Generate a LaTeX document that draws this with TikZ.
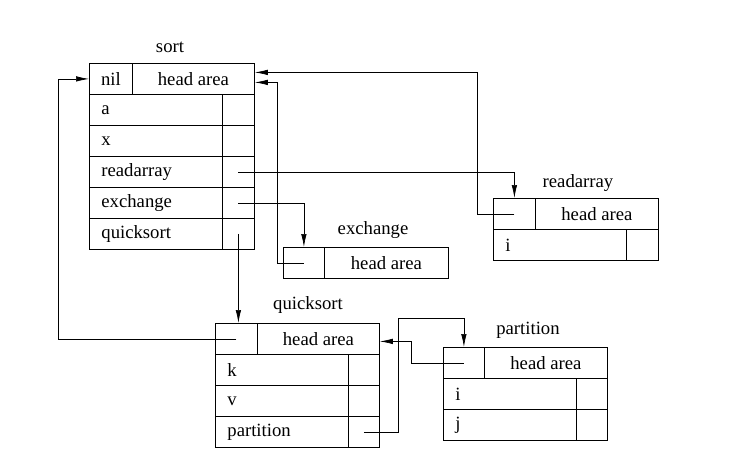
\documentclass[tikz,border=0pt]{standalone}
\usepackage{fontspec}
\setmainfont{Liberation Serif}
\usetikzlibrary{arrows.meta}

\tikzset{
    cell/.style={draw, rectangle, anchor=north west, minimum height=31pt, inner sep=0pt},
    field/.style={cell, inner xsep=12pt, align=left, text width=#1},
    ptr/.style={->, line width=.7pt}
}

\begin{document}
\begin{tikzpicture}[x=1pt, y=-1pt, >={Latex[length=13pt,width=5.5pt]}, line width=.8pt,
    every node/.append style={font=\fontsize{18.7}{20}\selectfont}]
\useasboundingbox (0,0) rectangle (748,467);

% sort
\node (t-sort) at (170,47) {sort};
\node[cell, minimum width=43pt] (s-nil) at (89,63) {nil};
\node[cell, minimum width=122pt] (s-head) at (132,63) {head area};
\node[field=109pt] (s-a) at (89,94) {a};
\node[cell, minimum width=32pt] (s-ap) at (222,94) {};
\node[field=109pt] (s-x) at (89,125) {x};
\node[cell, minimum width=32pt] (s-xp) at (222,125) {};
\node[field=109pt] (s-r) at (89,156) {readarray};
\node[cell, minimum width=32pt] (s-rp) at (222,156) {};
\node[field=109pt] (s-e) at (89,187) {exchange};
\node[cell, minimum width=32pt] (s-ep) at (222,187) {};
\node[field=109pt] (s-q) at (89,218) {quicksort};
\node[cell, minimum width=32pt] (s-qp) at (222,218) {};

% exchange
\node (t-exch) at (373,230) {exchange};
\node[cell, minimum width=41pt] (e-ptr) at (283,247) {};
\node[cell, minimum width=124pt] (e-head) at (324,247) {head area};

% readarray
\node (t-read) at (578,183) {readarray};
\node[cell, minimum width=42pt] (r-ptr) at (493,198) {};
\node[cell, minimum width=123pt] (r-head) at (535,198) {head area};
\node[field=109pt] (r-i) at (493,229) {i};
\node[cell, minimum width=32pt] (r-ip) at (626,229) {};

% quicksort
\node (t-quick) at (308,305) {quicksort};
\node[cell, minimum width=42pt] (q-ptr) at (215,323) {};
\node[cell, minimum width=122pt] (q-head) at (257,323) {head area};
\node[field=109pt] (q-k) at (215,354) {k};
\node[cell, minimum width=31pt] (q-kp) at (348,354) {};
\node[field=109pt] (q-v) at (215,385) {v};
\node[cell, minimum width=31pt] (q-vp) at (348,385) {};
\node[field=109pt] (q-p) at (215,416) {partition};
\node[cell, minimum width=31pt] (q-pp) at (348,416) {};

% partition
\node (t-part) at (528,330) {partition};
\node[cell, minimum width=41pt] (p-ptr) at (443,347) {};
\node[cell, minimum width=123pt] (p-head) at (484,347) {head area};
\node[field=109pt] (p-i) at (443,378) {i};
\node[cell, minimum width=31pt] (p-ip) at (576,378) {};
\node[field=109pt] (p-j) at (443,409) {j};
\node[cell, minimum width=31pt] (p-jp) at (576,409) {};

% links
\coordinate (s-in1) at ([yshift=6.5pt]s-head.east);
\coordinate (s-in2) at ([yshift=-3.5pt]s-head.east);
\coordinate (q-in) at ([yshift=-2.5pt]q-head.east);
\draw[ptr] (s-rp.center) -| (r-ptr.north);
\draw[ptr] (s-ep.center) -| (e-ptr.north);
\draw[ptr] (s-qp.center) -- (s-qp.center |- q-ptr.north);
\draw[ptr] (q-ptr.center) -| ([xshift=-31pt]s-nil.west) -- (s-nil.west);
\draw[ptr] (r-ptr.center) -| ([xshift=223pt]s-in1) -- (s-in1);
\draw[ptr] (e-ptr.center) -| ([xshift=23pt]s-in2) -- (s-in2);
\draw[ptr] (p-ptr.center) -| ([xshift=32pt]q-in) -- (q-in);
\draw[ptr] (q-pp.center) -| (398,318) -| (p-ptr.north);
\end{tikzpicture}
\end{document}
